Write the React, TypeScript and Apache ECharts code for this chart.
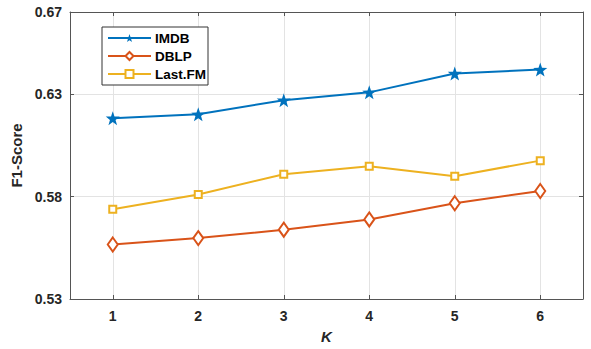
import React, { useEffect, useRef } from "react";
import * as echarts from "echarts";

const K = [1, 2, 3, 4, 5, 6];
const IMDB = [0.6182, 0.6201, 0.627, 0.6308, 0.64, 0.6419];
const DBLP = [0.5566, 0.5597, 0.5638, 0.5688, 0.5767, 0.5827];
const LASTFM = [0.5738, 0.581, 0.5909, 0.5948, 0.5899, 0.5975];
const Y_TICKS = [0.53, 0.58, 0.63, 0.67];

const STAR =
  "path://M0,-10 L2.35,-3.24 L9.51,-3.09 L3.8,1.24 L5.88,8.09 L0,4.1 L-5.88,8.09 L-3.8,1.24 L-9.51,-3.09 L-2.35,-3.24 Z";

const AXIS_COLOR = "#555555";
const TEXT_COLOR = "#262626";
const FONT = "Liberation Sans, Arial, sans-serif";

function pairs(vals: number[]) {
  return K.map((k, i) => [k, vals[i]]);
}

export default function App() {
  const ref = useRef<HTMLDivElement>(null);
  useEffect(() => {
    if (!ref.current) return;
    const chart = echarts.init(ref.current, undefined, { renderer: "svg" });
    const xBase = {
      type: "value" as const,
      min: 0.5,
      max: 6.5,
      splitNumber: 6,
      minInterval: 1,
      axisLine: { show: true, lineStyle: { color: AXIS_COLOR, width: 1 } },
      axisTick: { show: true, inside: true, length: 4, lineStyle: { color: AXIS_COLOR } },
    };
    const yBase = {
      type: "value" as const,
      min: 0.53,
      max: 0.67,
      interval: 0.05,
      axisLine: { show: true, lineStyle: { color: AXIS_COLOR, width: 1 } },
      axisTick: { show: true, inside: true, length: 4, lineStyle: { color: AXIS_COLOR } },
    };
    chart.setOption({
      animation: false,
      backgroundColor: "#ffffff",
      textStyle: { fontFamily: FONT },
      grid: { left: 70, right: 8, top: 12, bottom: 48, containLabel: false },
      xAxis: [
        {
          ...xBase,
          position: "bottom",
          name: "K",
          nameLocation: "middle",
          nameGap: 30,
          nameTextStyle: {
            fontFamily: FONT,
            fontWeight: "bold",
            fontStyle: "italic",
            fontSize: 15,
            color: TEXT_COLOR,
          },
          axisLabel: {
            show: true,
            margin: 10,
            fontFamily: FONT,
            fontWeight: "bold",
            fontSize: 14,
            color: TEXT_COLOR,
            showMinLabel: false,
            showMaxLabel: false,
            formatter: (v: number) => (Number.isInteger(v) ? String(v) : ""),
          },
          splitLine: { show: true, lineStyle: { color: "#e3e3e3", width: 1 } },
        },
        {
          ...xBase,
          position: "top",
          axisLabel: { show: false },
          splitLine: { show: false },
        },
      ],
      yAxis: [
        {
          ...yBase,
          position: "left",
          name: "F1-Score",
          nameLocation: "middle",
          nameGap: 39,
          nameTextStyle: {
            fontFamily: FONT,
            fontWeight: "bold",
            fontSize: 15,
            color: TEXT_COLOR,
          },
          axisLabel: {
            show: true,
            margin: 8,
            fontFamily: FONT,
            fontWeight: "bold",
            fontSize: 14,
            color: TEXT_COLOR,
            formatter: (v: number) => {
              const hit = Y_TICKS.find((t) => Math.abs(t - v) < 1e-6);
              return hit !== undefined ? hit.toFixed(2) : "";
            },
          },
          splitLine: { show: true, lineStyle: { color: "#e3e3e3", width: 1 } },
        },
        {
          ...yBase,
          position: "right",
          axisLabel: { show: false },
          splitLine: { show: false },
        },
      ],
      legend: {
        show: true,
        orient: "vertical",
        left: 102,
        top: 27,
        padding: [4, 2, 4, 5],
        itemWidth: 43,
        itemHeight: 10,
        itemGap: 4,
        backgroundColor: "#ffffff",
        borderColor: "#333333",
        borderWidth: 1,
        borderRadius: 0,
        textStyle: {
          fontFamily: FONT,
          fontWeight: "bold",
          fontSize: 13.5,
          color: "#000000",
          padding: [0, 0, 0, -1],
        },
        data: ["IMDB", "DBLP", "Last.FM"],
      },
      series: [
        {
          name: "IMDB",
          type: "line",
          data: pairs(IMDB),
          symbol: STAR,
          symbolSize: 14,
          showAllSymbol: true,
          lineStyle: { color: "#0072BD", width: 2 },
          itemStyle: { color: "#0072BD" },
          z: 3,
        },
        {
          name: "DBLP",
          type: "line",
          data: pairs(DBLP),
          symbol: "emptyDiamond",
          symbolSize: [10, 14],
          lineStyle: { color: "#D95319", width: 2 },
          itemStyle: { color: "#D95319", borderWidth: 2 },
          z: 3,
        },
        {
          name: "Last.FM",
          type: "line",
          data: pairs(LASTFM),
          symbol: "emptyRect",
          symbolSize: 7,
          lineStyle: { color: "#EDB120", width: 2 },
          itemStyle: { color: "#EDB120", borderWidth: 1.5 },
          z: 3,
        },
      ],
    });
    return () => chart.dispose();
  }, []);
  return (
    <div
      ref={ref}
      style={{ position: "absolute", left: 0, top: 0, width: 591, height: 349 }}
    />
  );
}
